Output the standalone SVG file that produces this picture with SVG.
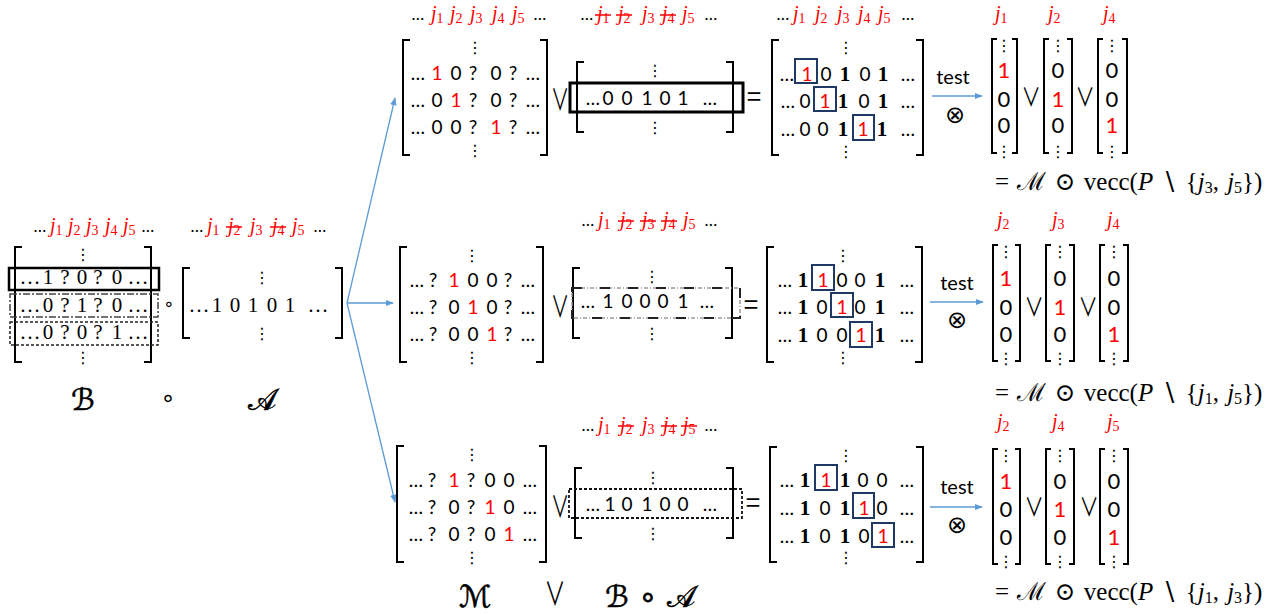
<svg xmlns="http://www.w3.org/2000/svg" width="1281" height="614" viewBox="0 0 1281 614">
<defs>
<style>
.br{fill:none;stroke:#000;stroke-width:2}
.c{font-family:Lato,"Open Sans",sans-serif;font-size:19px;text-anchor:middle;fill:#000}
.v{font-family:Lato,"Open Sans",sans-serif;font-size:22px;text-anchor:middle;fill:#000}
.s{font-family:"Liberation Serif",serif;font-size:21px;text-anchor:middle;fill:#000}
.bd{font-family:"Liberation Serif",serif;font-weight:bold;font-size:21px}
.r{fill:#FF0000}
.j{font-family:"Liberation Serif",serif;font-style:italic;font-size:20px;fill:#FF0000}
.sub{font-style:normal;font-size:14px}
.dt{font-family:Lato,sans-serif;font-size:17px;text-anchor:middle;fill:#000}
.vd{font-family:"DejaVu Sans",sans-serif;font-size:16px;text-anchor:middle;fill:#000}
.op{font-family:"DejaVu Sans",sans-serif;text-anchor:middle;fill:#000}
.or{font-family:"Noto Sans CJK SC","DejaVu Sans",sans-serif;text-anchor:middle;fill:#000}
.t{font-family:Lato,"Open Sans",sans-serif;font-size:20px;text-anchor:middle;fill:#000}
.f{font-family:"Liberation Serif","DejaVu Serif",serif;font-size:25px;word-spacing:2px;fill:#000}
.sc{font-family:"DejaVu Sans","Noto Sans",serif;font-size:30px;text-anchor:middle;fill:#000;stroke:#000;stroke-width:0.6}
.st{stroke:#FF0000;stroke-width:1.5}
.hb{fill:none;stroke:#203864;stroke-width:2}
.ar{stroke:#5B9BD5;stroke-width:1.3;fill:none}
</style>
<marker id="ah" viewBox="0 0 10 10" refX="9" refY="5" markerWidth="8" markerHeight="8" orient="auto" markerUnits="userSpaceOnUse"><path d="M0,1 L10,5 L0,9 z" fill="#5B9BD5"/></marker>
</defs>
<rect width="1281" height="614" fill="#fff"/>

<g id="connectors">
<line class="ar" x1="347" y1="303" x2="395" y2="98" marker-end="url(#ah)"/>
<line class="ar" x1="347" y1="303" x2="393" y2="303" marker-end="url(#ah)"/>
<line class="ar" x1="347" y1="303" x2="395" y2="502" marker-end="url(#ah)"/>
<line class="ar" x1="932" y1="96" x2="982" y2="96" marker-end="url(#ah)"/>
<line class="ar" x1="930" y1="302" x2="983" y2="302" marker-end="url(#ah)"/>
<line class="ar" x1="930" y1="507" x2="982" y2="507" marker-end="url(#ah)"/>
</g>

<!-- LEFT: B o A -->
<g id="matrix-B">
<text class="dt" x="40" y="232">…</text>
<text class="j" x="50" y="232">j<tspan class="sub" dy="3">1</tspan></text>
<text class="j" x="68" y="232">j<tspan class="sub" dy="3">2</tspan></text>
<text class="j" x="86" y="232">j<tspan class="sub" dy="3">3</tspan></text>
<text class="j" x="105" y="232">j<tspan class="sub" dy="3">4</tspan></text>
<text class="j" x="123" y="232">j<tspan class="sub" dy="3">5</tspan></text>
<text class="dt" x="148" y="232">…</text>
<path class="br" d="M22 247H15V362H22 M144 247H151V362H144"/>
<text class="vd" x="83" y="260">⋮</text>
<text class="vd" x="83" y="363">⋮</text>
<rect x="9" y="268" width="150" height="22" fill="none" stroke="#000" stroke-width="2.5"/>
<rect x="10" y="294" width="148" height="23" fill="none" stroke="#444" stroke-width="1.5" stroke-dasharray="7 2 2 2"/>
<rect x="10" y="322" width="148" height="23" fill="none" stroke="#222" stroke-width="1.5" stroke-dasharray="3 2"/>
<text class="s" x="30 48 65 82 98 117 138" y="284">…1?0?0…</text>
<text class="s" x="30 48 65 82 98 117 138" y="312">…0?1?0…</text>
<text class="s" x="30 48 65 82 98 117 138" y="339">…0?0?1…</text>
<text class="sc" x="83" y="410">ℬ</text>
</g>
<g id="op-circ">
<text class="op" x="169" y="310" font-size="18">∘</text>
<text class="op" x="168" y="406" font-size="24">∘</text>
</g>
<g id="matrix-A">
<text class="dt" x="197" y="232">…</text>
<text class="j" x="207" y="232">j<tspan class="sub" dy="3">1</tspan></text>
<text class="j" x="228" y="232">j<tspan class="sub" dy="3">2</tspan></text>
<text class="j" x="250" y="232">j<tspan class="sub" dy="3">3</tspan></text>
<text class="j" x="272" y="232">j<tspan class="sub" dy="3">4</tspan></text>
<text class="j" x="292" y="232">j<tspan class="sub" dy="3">5</tspan></text>
<text class="dt" x="320" y="232">…</text>
<line class="st" x1="226" y1="227" x2="242" y2="227"/>
<line class="st" x1="270" y1="227" x2="286" y2="227"/>
<path class="br" d="M190 268H183V338H190 M335 268H342V338H335"/>
<text class="vd" x="262" y="283">⋮</text>
<text class="vd" x="262" y="339">⋮</text>
<text class="s" x="199 217 235 253 272 290 318" y="312">…10101…</text>
<text class="sc" x="262" y="410">𝒜</text>
</g>

<!-- TOP ROW -->
<g id="top-M">
<text class="dt" x="418" y="20">…</text>
<text class="j" x="431" y="20">j<tspan class="sub" dy="3">1</tspan></text>
<text class="j" x="450" y="20">j<tspan class="sub" dy="3">2</tspan></text>
<text class="j" x="470" y="20">j<tspan class="sub" dy="3">3</tspan></text>
<text class="j" x="492" y="20">j<tspan class="sub" dy="3">4</tspan></text>
<text class="j" x="512" y="20">j<tspan class="sub" dy="3">5</tspan></text>
<text class="dt" x="540" y="20">…</text>
<path class="br" d="M410 40H403V155H410 M540 40H547V155H540"/>
<text class="vd" x="475" y="53">⋮</text>
<text class="vd" x="475" y="156">⋮</text>
<text class="c" x="418 437 456 473 496 513 533" y="80">…<tspan class="r">1</tspan>0?0?…</text>
<text class="c" x="418 437 456 473 496 513 533" y="107">…0<tspan class="r">1</tspan>?0?…</text>
<text class="c" x="418 437 456 473 496 513 533" y="134">…00?<tspan class="r">1</tspan>?…</text>
</g>
<text class="or" transform="translate(560,110) scale(0.7,1.15)" font-size="26">∨</text>
<g id="top-BA">
<text class="dt" x="587" y="20">…</text>
<text class="j" x="597" y="20">j<tspan class="sub" dy="3">1</tspan></text>
<text class="j" x="618" y="20">j<tspan class="sub" dy="3">2</tspan></text>
<text class="j" x="642" y="20">j<tspan class="sub" dy="3">3</tspan></text>
<text class="j" x="662" y="20">j<tspan class="sub" dy="3">4</tspan></text>
<text class="j" x="682" y="20">j<tspan class="sub" dy="3">5</tspan></text>
<text class="dt" x="711" y="20">…</text>
<line class="st" x1="595" y1="15" x2="611" y2="15"/>
<line class="st" x1="616" y1="15" x2="632" y2="15"/>
<line class="st" x1="660" y1="15" x2="676" y2="15"/>
<path class="br" d="M584 62H577V132H584 M726 62H733V132H726"/>
<text class="vd" x="655" y="76">⋮</text>
<text class="vd" x="655" y="133">⋮</text>
<rect x="570" y="83" width="173" height="29" fill="none" stroke="#000" stroke-width="3"/>
<text class="c" x="593 608 627 647 665 683 710" y="105">…00101…</text>
</g>
<text class="or" x="754" y="106" font-size="26">=</text>
<g id="top-R">
<text class="dt" x="783" y="20">…</text>
<text class="j" x="793" y="20">j<tspan class="sub" dy="3">1</tspan></text>
<text class="j" x="815" y="20">j<tspan class="sub" dy="3">2</tspan></text>
<text class="j" x="837" y="20">j<tspan class="sub" dy="3">3</tspan></text>
<text class="j" x="858" y="20">j<tspan class="sub" dy="3">4</tspan></text>
<text class="j" x="878" y="20">j<tspan class="sub" dy="3">5</tspan></text>
<text class="dt" x="908" y="20">…</text>
<path class="br" d="M779 40H772V155H779 M916 40H923V155H916"/>
<text class="vd" x="846" y="53">⋮</text>
<text class="vd" x="846" y="157">⋮</text>
<text class="c" x="787 807 826 845 865 883 908" y="81">…<tspan class="r">1</tspan>0<tspan class="bd">1</tspan>0<tspan class="bd">1</tspan>…</text>
<text class="c" x="788 805 825 843 864 883 908" y="108">…0<tspan class="r">1</tspan><tspan class="bd">1</tspan>0<tspan class="bd">1</tspan>…</text>
<text class="c" x="788 805 823 843 863 882 908" y="136">…00<tspan class="bd">1</tspan><tspan class="r">1</tspan><tspan class="bd">1</tspan>…</text>
<rect class="hb" x="795" y="59" width="22" height="24"/>
<rect class="hb" x="814" y="87" width="22" height="24"/>
<rect class="hb" x="853" y="115" width="21" height="25"/>
</g>
<g id="top-test">
<text class="t" x="953" y="84">test</text>
<text class="op" x="955" y="123" font-size="24">⊗</text>
</g>
<g id="top-vecs">
<text class="j" x="995" y="20">j<tspan class="sub" dy="3">1</tspan></text>
<text class="j" x="1048" y="20">j<tspan class="sub" dy="3">2</tspan></text>
<text class="j" x="1103" y="20">j<tspan class="sub" dy="3">4</tspan></text>
<path class="br" d="M997 39H992V153H997 M1012 39H1017V153H1012 M1049 39H1044V153H1049 M1067 39H1072V153H1067 M1103 39H1098V153H1103 M1122 39H1127V153H1122"/>
<text class="vd" x="1004" y="51">⋮</text><text class="vd" x="1004" y="157">⋮</text>
<text class="vd" x="1058" y="51">⋮</text><text class="vd" x="1058" y="157">⋮</text>
<text class="vd" x="1112" y="51">⋮</text><text class="vd" x="1112" y="157">⋮</text>
<text class="v r" x="1004" y="78">1</text><text class="v" x="1004" y="107">0</text><text class="v" x="1004" y="133">0</text>
<text class="v" x="1058" y="78">0</text><text class="v r" x="1058" y="107">1</text><text class="v" x="1058" y="133">0</text>
<text class="v" x="1112" y="78">0</text><text class="v" x="1112" y="107">0</text><text class="v r" x="1112" y="133">1</text>
<text class="or" transform="translate(1031,106) scale(0.8,1.05)" font-size="24">∨</text>
<text class="or" transform="translate(1085,106) scale(0.8,1.05)" font-size="24">∨</text>
<text class="f" x="995" y="190">= ℳ ⊙ vecc(<tspan font-style="italic">P</tspan> ∖ {<tspan font-style="italic">j</tspan><tspan font-size="16" dy="3">3</tspan><tspan dy="-3">, </tspan><tspan font-style="italic">j</tspan><tspan font-size="16" dy="3">5</tspan><tspan dy="-3">})</tspan></text>
</g>

<!-- MIDDLE ROW -->
<g id="mid-M">
<path class="br" d="M407 247H400V362H407 M536 247H543V362H536"/>
<text class="vd" x="472" y="261">⋮</text>
<text class="vd" x="472" y="363">⋮</text>
<text class="c" x="417 433 454 473 492 508 528" y="287">…?<tspan class="r">1</tspan>00?…</text>
<text class="c" x="417 433 454 473 492 508 528" y="314">…?0<tspan class="r">1</tspan>0?…</text>
<text class="c" x="417 433 454 473 492 508 528" y="341">…?00<tspan class="r">1</tspan>?…</text>
</g>
<text class="or" transform="translate(560,317) scale(0.7,1.15)" font-size="26">∨</text>
<g id="mid-BA">
<text class="dt" x="588" y="226">…</text>
<text class="j" x="598" y="226">j<tspan class="sub" dy="3">1</tspan></text>
<text class="j" x="620" y="226">j<tspan class="sub" dy="3">2</tspan></text>
<text class="j" x="642" y="226">j<tspan class="sub" dy="3">3</tspan></text>
<text class="j" x="663" y="226">j<tspan class="sub" dy="3">4</tspan></text>
<text class="j" x="683" y="226">j<tspan class="sub" dy="3">5</tspan></text>
<text class="dt" x="711" y="226">…</text>
<line class="st" x1="618" y1="221" x2="634" y2="221"/>
<line class="st" x1="640" y1="221" x2="656" y2="221"/>
<line class="st" x1="661" y1="221" x2="677" y2="221"/>
<path class="br" d="M580 268H573V338H580 M725 268H732V338H725"/>
<text class="vd" x="652" y="282">⋮</text>
<text class="vd" x="652" y="339">⋮</text>
<rect x="572" y="288" width="168" height="30" fill="none" stroke="#999" stroke-width="1.5" stroke-dasharray="4 2 1 2"/>
<rect x="572" y="288" width="168" height="30" fill="none" stroke="#222" stroke-width="2" stroke-dasharray="10 18"/>
<text class="c" x="588 608 627 645 663 683 707" y="308">…10001…</text>
</g>
<text class="or" x="751" y="314" font-size="26">=</text>
<g id="mid-R">
<path class="br" d="M774 247H767V362H774 M915 247H922V362H915"/>
<text class="vd" x="843" y="261">⋮</text>
<text class="vd" x="843" y="363">⋮</text>
<text class="c" x="785 803 823 842 860 880 907" y="287">…<tspan class="bd">1</tspan><tspan class="r">1</tspan>00<tspan class="bd">1</tspan>…</text>
<text class="c" x="785 803 822 842 860 880 907" y="314">…<tspan class="bd">1</tspan>0<tspan class="r">1</tspan>0<tspan class="bd">1</tspan>…</text>
<text class="c" x="785 803 822 842 861 880 907" y="342">…<tspan class="bd">1</tspan>00<tspan class="r">1</tspan><tspan class="bd">1</tspan>…</text>
<rect class="hb" x="812" y="265" width="22" height="25"/>
<rect class="hb" x="831" y="293" width="22" height="24"/>
<rect class="hb" x="850" y="322" width="22" height="25"/>
</g>
<g id="mid-test">
<text class="t" x="957" y="290">test</text>
<text class="op" x="957" y="328" font-size="24">⊗</text>
</g>
<g id="mid-vecs">
<text class="j" x="997" y="226">j<tspan class="sub" dy="3">2</tspan></text>
<text class="j" x="1052" y="226">j<tspan class="sub" dy="3">3</tspan></text>
<text class="j" x="1107" y="226">j<tspan class="sub" dy="3">4</tspan></text>
<path class="br" d="M998 245H993V361H998 M1015 245H1020V361H1015 M1051 245H1046V361H1051 M1069 245H1074V361H1069 M1105 245H1100V361H1105 M1123 245H1128V361H1123"/>
<text class="vd" x="1006" y="257">⋮</text><text class="vd" x="1006" y="364">⋮</text>
<text class="vd" x="1060" y="257">⋮</text><text class="vd" x="1060" y="364">⋮</text>
<text class="vd" x="1114" y="257">⋮</text><text class="vd" x="1114" y="364">⋮</text>
<text class="v r" x="1006" y="286">1</text><text class="v" x="1006" y="315">0</text><text class="v" x="1006" y="342">0</text>
<text class="v" x="1060" y="286">0</text><text class="v r" x="1060" y="315">1</text><text class="v" x="1060" y="342">0</text>
<text class="v" x="1114" y="286">0</text><text class="v" x="1114" y="315">0</text><text class="v r" x="1114" y="342">1</text>
<text class="or" transform="translate(1034,316) scale(0.8,1.05)" font-size="24">∨</text>
<text class="or" transform="translate(1088,316) scale(0.8,1.05)" font-size="24">∨</text>
<text class="f" x="995" y="401">= ℳ ⊙ vecc(<tspan font-style="italic">P</tspan> ∖ {<tspan font-style="italic">j</tspan><tspan font-size="16" dy="3">1</tspan><tspan dy="-3">, </tspan><tspan font-style="italic">j</tspan><tspan font-size="16" dy="3">5</tspan><tspan dy="-3">})</tspan></text>
</g>

<!-- BOTTOM ROW -->
<g id="bot-M">
<path class="br" d="M404 446H397V562H404 M539 446H546V562H539"/>
<text class="vd" x="472" y="460">⋮</text>
<text class="vd" x="472" y="563">⋮</text>
<text class="c" x="416 432 454 471 490 509 530" y="487">…?<tspan class="r">1</tspan>?00…</text>
<text class="c" x="416 432 454 471 490 509 530" y="514">…?0?<tspan class="r">1</tspan>0…</text>
<text class="c" x="416 432 454 471 490 509 530" y="541">…?0?0<tspan class="r">1</tspan>…</text>
<text class="sc" x="475" y="607">ℳ</text>
</g>
<text class="or" transform="translate(560,517) scale(0.7,1.15)" font-size="26">∨</text>
<text class="or" transform="translate(555,605) scale(0.75,1.15)" font-size="28">∨</text>
<g id="bot-BA">
<text class="dt" x="588" y="431">…</text>
<text class="j" x="598" y="431">j<tspan class="sub" dy="3">1</tspan></text>
<text class="j" x="620" y="431">j<tspan class="sub" dy="3">2</tspan></text>
<text class="j" x="642" y="431">j<tspan class="sub" dy="3">3</tspan></text>
<text class="j" x="663" y="431">j<tspan class="sub" dy="3">4</tspan></text>
<text class="j" x="683" y="431">j<tspan class="sub" dy="3">5</tspan></text>
<text class="dt" x="711" y="431">…</text>
<line class="st" x1="618" y1="426" x2="634" y2="426"/>
<line class="st" x1="661" y1="426" x2="677" y2="426"/>
<line class="st" x1="681" y1="426" x2="697" y2="426"/>
<path class="br" d="M582 468H575V538H582 M726 468H733V538H726"/>
<text class="vd" x="653" y="483">⋮</text>
<text class="vd" x="653" y="539">⋮</text>
<rect x="569" y="489" width="173" height="29" fill="none" stroke="#111" stroke-width="1.8" stroke-dasharray="3 2"/>
<text class="c" x="593 610 627 647 665 683 710" y="511">…10100…</text>
<text class="sc" x="650" y="607">ℬ ∘ 𝒜</text>
</g>
<text class="or" x="753" y="512" font-size="26">=</text>
<g id="bot-R">
<path class="br" d="M777 447H770V562H777 M916 447H923V562H916"/>
<text class="vd" x="846" y="461">⋮</text>
<text class="vd" x="846" y="563">⋮</text>
<text class="c" x="787 805 826 845 863 882 907" y="487">…<tspan class="bd">1</tspan><tspan class="r">1</tspan><tspan class="bd">1</tspan>00…</text>
<text class="c" x="787 805 825 845 864 882 907" y="515">…<tspan class="bd">1</tspan>0<tspan class="bd">1</tspan><tspan class="r">1</tspan>0…</text>
<text class="c" x="787 805 825 845 864 883 907" y="543">…<tspan class="bd">1</tspan>0<tspan class="bd">1</tspan>0<tspan class="r">1</tspan>…</text>
<rect class="hb" x="815" y="465" width="22" height="25"/>
<rect class="hb" x="853" y="493" width="21" height="25"/>
<rect class="hb" x="872" y="523" width="22" height="24"/>
</g>
<g id="bot-test">
<text class="t" x="957" y="494">test</text>
<text class="op" x="957" y="533" font-size="24">⊗</text>
</g>
<g id="bot-vecs">
<text class="j" x="997" y="428">j<tspan class="sub" dy="3">2</tspan></text>
<text class="j" x="1052" y="428">j<tspan class="sub" dy="3">4</tspan></text>
<text class="j" x="1107" y="428">j<tspan class="sub" dy="3">5</tspan></text>
<path class="br" d="M998 449H993V564H998 M1015 449H1020V564H1015 M1051 449H1046V564H1051 M1069 449H1074V564H1069 M1105 449H1100V564H1105 M1123 449H1128V564H1123"/>
<text class="vd" x="1006" y="461">⋮</text><text class="vd" x="1006" y="567">⋮</text>
<text class="vd" x="1060" y="461">⋮</text><text class="vd" x="1060" y="567">⋮</text>
<text class="vd" x="1114" y="461">⋮</text><text class="vd" x="1114" y="567">⋮</text>
<text class="v r" x="1006" y="489">1</text><text class="v" x="1006" y="517">0</text><text class="v" x="1006" y="545">0</text>
<text class="v" x="1060" y="489">0</text><text class="v r" x="1060" y="517">1</text><text class="v" x="1060" y="545">0</text>
<text class="v" x="1114" y="489">0</text><text class="v" x="1114" y="517">0</text><text class="v r" x="1114" y="545">1</text>
<text class="or" transform="translate(1034,516) scale(0.8,1.05)" font-size="24">∨</text>
<text class="or" transform="translate(1089,516) scale(0.8,1.05)" font-size="24">∨</text>
<text class="f" x="995" y="600">= ℳ ⊙ vecc(<tspan font-style="italic">P</tspan> ∖ {<tspan font-style="italic">j</tspan><tspan font-size="16" dy="3">1</tspan><tspan dy="-3">, </tspan><tspan font-style="italic">j</tspan><tspan font-size="16" dy="3">3</tspan><tspan dy="-3">})</tspan></text>
</g>
</svg>
